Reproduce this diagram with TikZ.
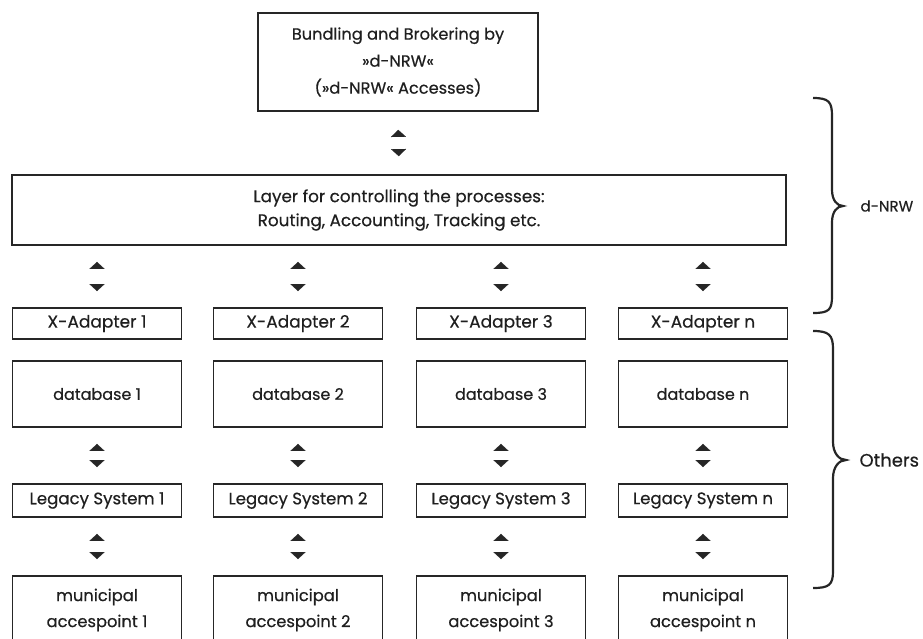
\documentclass[tikz,border=0pt]{standalone}
\usepackage{fontspec}
\setmainfont{Poppins}[FakeBold=0.5]
\usetikzlibrary{arrows.meta}
\tikzset{
  box/.style={draw=black!85, line width=1.8pt, minimum width=169pt, align=center, inner sep=0pt, font=\fontsize{16}{26}\selectfont, text=black!88},
  link/.style={white, line width=0.1pt, {Triangle[black!85,length=7pt,width=15pt]}-{Triangle[black!85,length=7pt,width=15pt]}, shorten <=16pt, shorten >=16pt},
  bracelabel/.style={anchor=west, text=black!88},
  bracepath/.style={draw=black!85, line width=2.2pt}
}
\begin{document}
\begin{tikzpicture}[x=1pt,y=-1pt]
\useasboundingbox (0,0) rectangle (923,639);
\clip (0,0) rectangle (923,639);
\node[box, minimum width=280pt, minimum height=98pt, font=\fontsize{16.2}{27}\selectfont] (top) at (398,62) {Bundling and Brokering by\\»d-NRW«\\(»d-NRW« Accesses)};
\node[box, minimum width=774pt, minimum height=70pt, font=\fontsize{16.8}{24}\selectfont] (layer) at (399,210) {Layer for controlling the processes:\\Routing, Accounting, Tracking etc.};
\draw[link, shorten <=18pt, shorten >=18pt] (top.south) -- (layer.north);
\foreach \i/\x/\t in {1/97/1, 2/298/2, 3/501/3, 4/703/n} {
  \node[box, minimum height=31pt, font=\fontsize{17}{20}\selectfont] (a\i) at (\x,323.5) {X-Adapter \t};
  \node[box, minimum height=66pt] (d\i) at (\x,394) {database \t};
  \node[box, minimum height=33pt, font=\fontsize{16.6}{20}\selectfont] (l\i) at (\x,500.5) {Legacy System \t};
  \node[box, minimum height=68pt, font=\fontsize{16.3}{26}\selectfont] (m\i) at (\x,610) {municipal\\accespoint \t};
  \draw[link] (layer.south -| a\i) -- (a\i.north);
  \draw[link] (d\i.south) -- (l\i.north);
  \draw[link] (l\i.south) -- (m\i.north);
}
\draw[bracepath] (813,98) .. controls (829,98) and (832,102) .. (832,116) -- (832,190) .. controls (832,200) and (837,206) .. (843,206) .. controls (837,206) and (832,212) .. (832,222) -- (832,296) .. controls (832,310) and (829,313) .. (813,313);
\node[bracelabel, font=\fontsize{15}{18}\selectfont] (dnrw) at (857,206) {d-NRW};
\draw[bracepath] (813,331) .. controls (829,331) and (833,335) .. (833,349) -- (833,442) .. controls (833,453) and (839,460) .. (846,460) .. controls (839,460) and (833,467) .. (833,478) -- (833,571) .. controls (833,585) and (829,588) .. (813,588);
\node[bracelabel, font=\fontsize{18}{20}\selectfont] (others) at (856,460) {Others};
\end{tikzpicture}
\end{document}
